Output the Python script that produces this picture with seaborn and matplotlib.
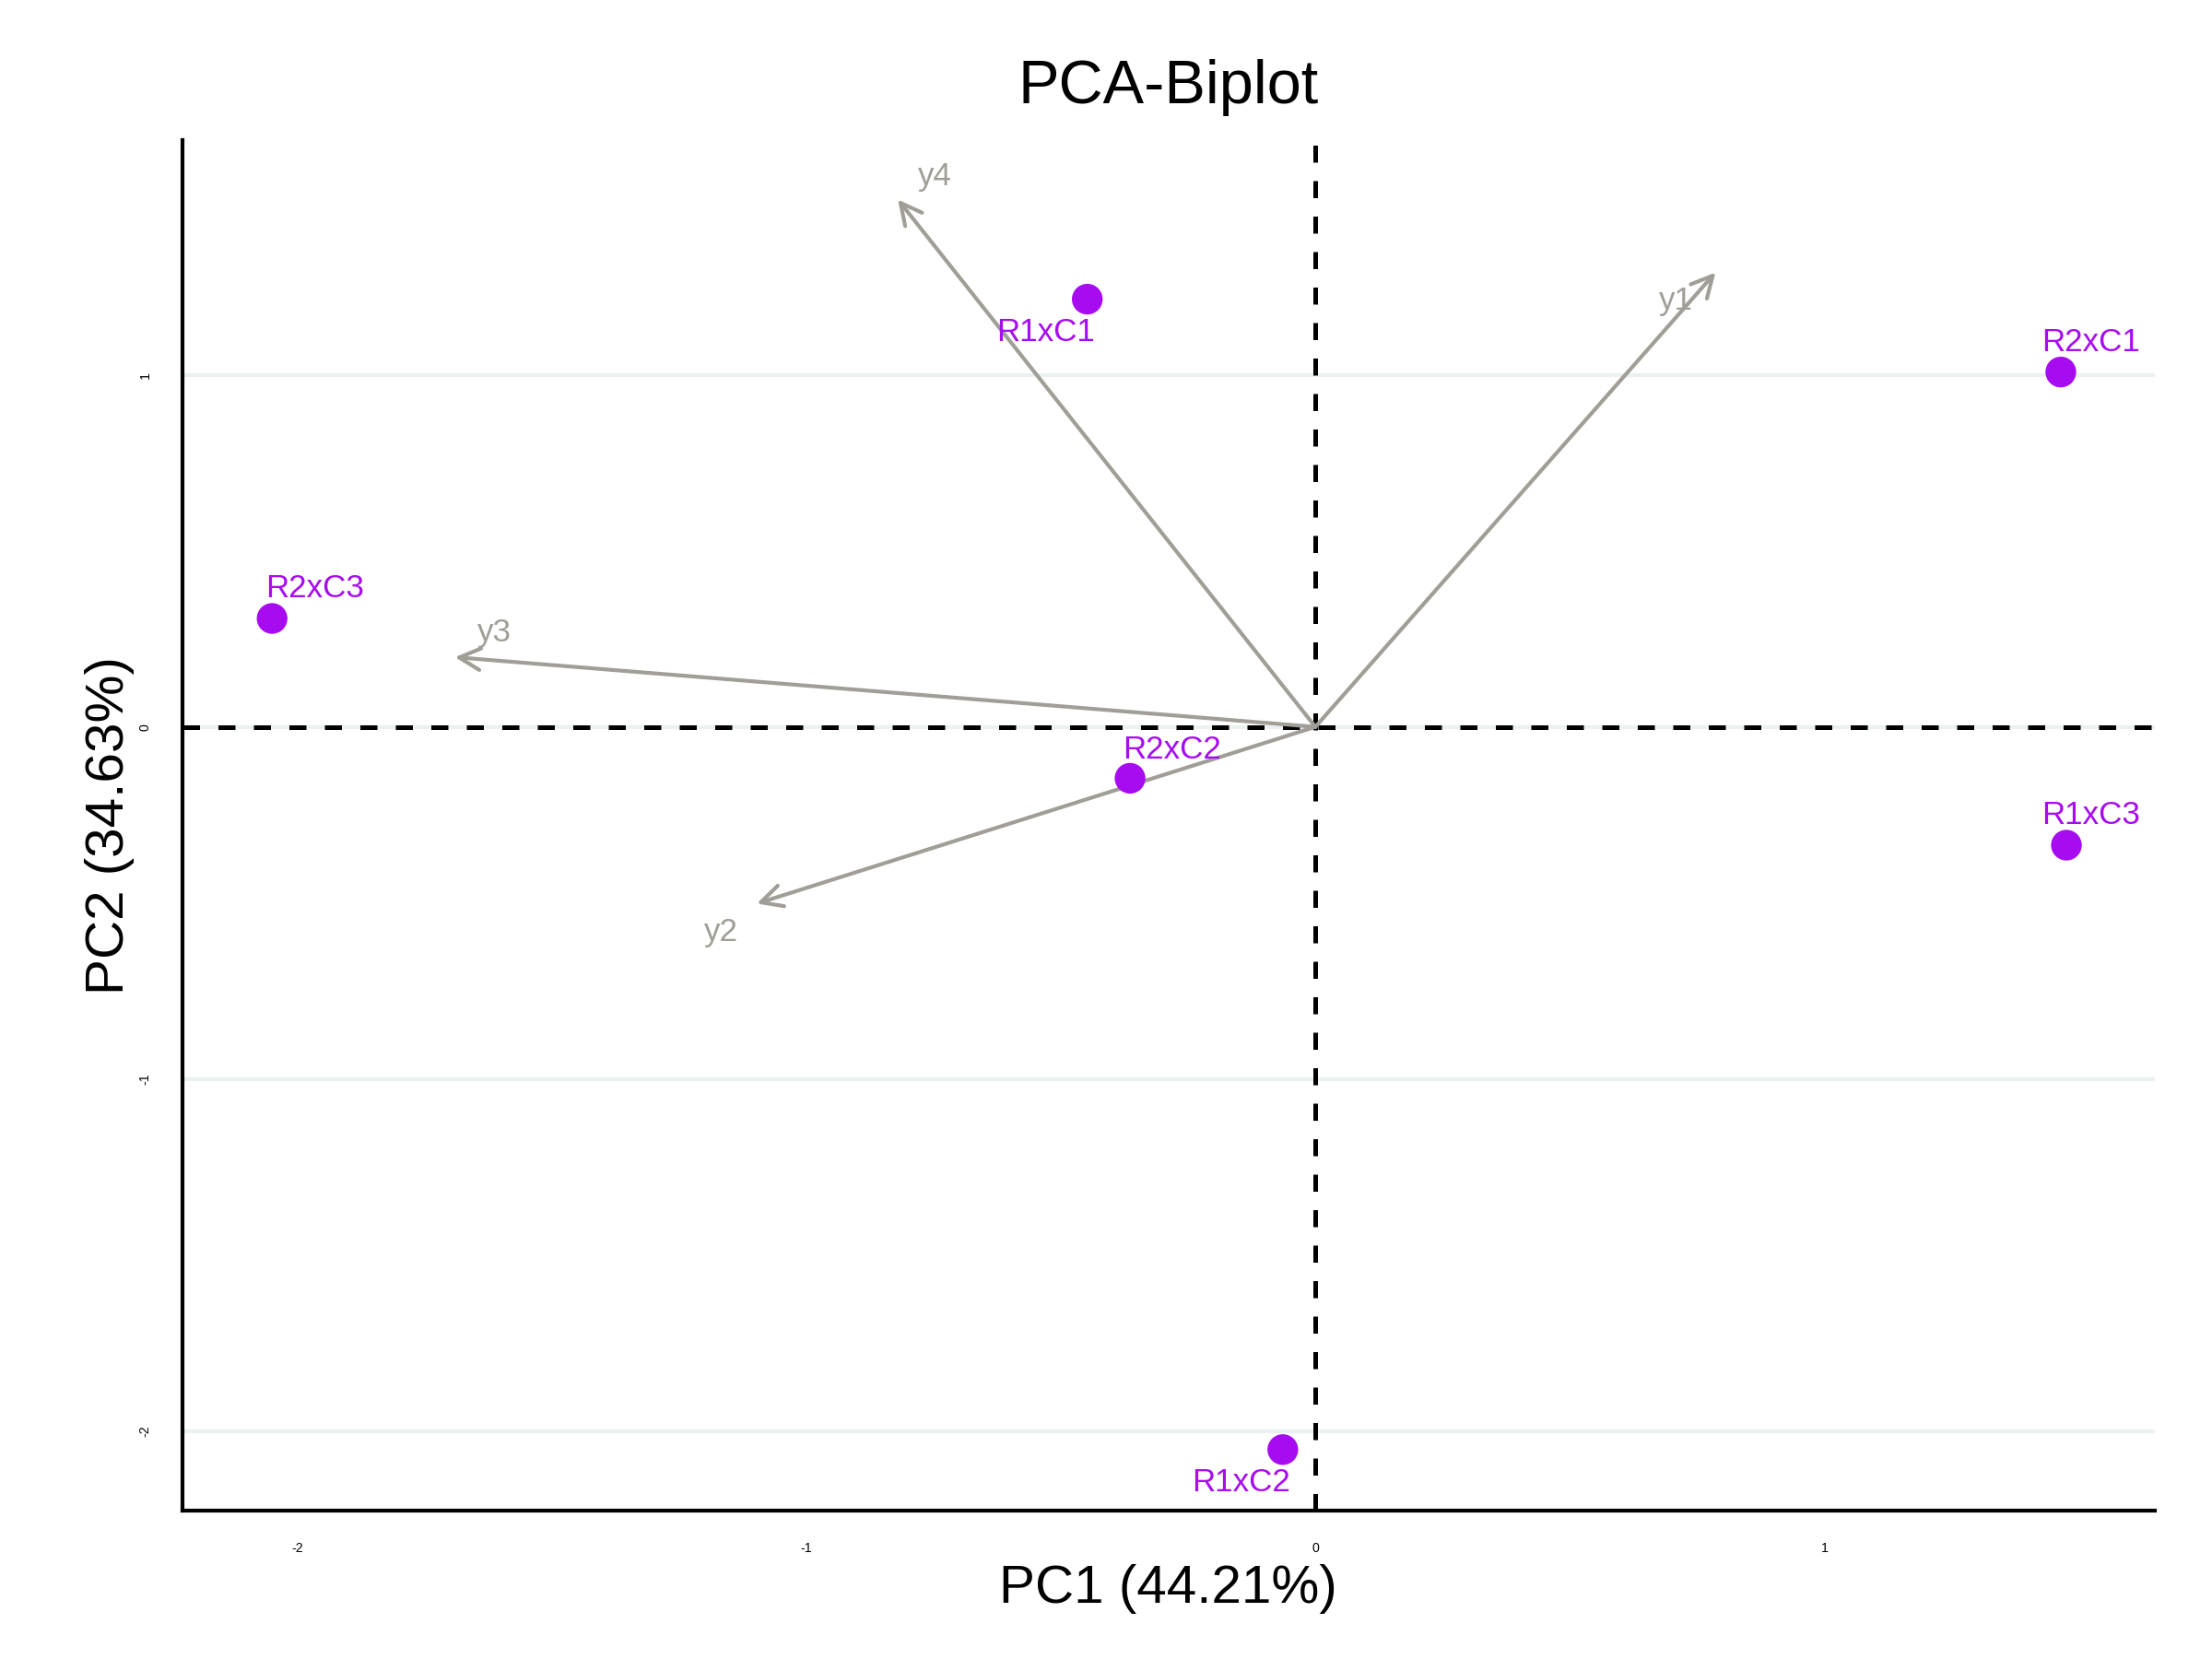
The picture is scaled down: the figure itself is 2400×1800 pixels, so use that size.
import matplotlib
matplotlib.use("Agg")
import matplotlib.pyplot as plt
import seaborn as sns
import pandas as pd

# ---- data ----
obs_names = ["R1xC1", "R2xC1", "R2xC3", "R2xC2", "R1xC3", "R1xC2"]
obs_pc1 = [-0.448, 1.464, -2.049, -0.364, 1.475, -0.064]
obs_pc2 = [1.215, 1.008, 0.308, -0.146, -0.336, -2.053]

var_names = ["y1", "y2", "y3", "y4"]
var_pc1 = [0.786, -1.097, -1.690, -0.820]
var_pc2 = [1.291, -0.502, 0.198, 1.498]

x_ticks = [-2, -1, 0, 1]
y_ticks = [-2, -1, 0, 1]
x_label = "PC1 (44.21%)"
y_label = "PC2 (34.63%)"
title = "PCA-Biplot"

# label offsets (points)
obs_offsets = [(-10.8, -8.5), (7.8, 7.8), (11.1, 7.8), (10.8, 7.5), (6.3, 7.8), (-10.8, -8.5)]
var_offsets = [(-10.4, -7.4), (-9.3, -7.4), (10.4, 6.3), (9.7, 6.0)]

PURPLE = "#A70CF0"
GREY = "#A09E96"

sns.set_style("white")
plt.rcParams["font.family"] = ["Liberation Sans", "DejaVu Sans"]
plt.rcParams["axes.unicode_minus"] = False
plt.rcParams["text.color"] = "black"
plt.rcParams["axes.labelcolor"] = "black"

fig = plt.figure(figsize=(8, 6), dpi=300)
ax = fig.add_axes([0.0825, 0.0893, 0.8915, 0.8265])

df = pd.DataFrame({"PC1": obs_pc1, "PC2": obs_pc2, "name": obs_names})

ax.set_xlim(-2.225, 1.648)
ax.set_ylim(-2.227, 1.668)

for yt in y_ticks:
    ax.axhline(yt, color="#EAF1F1", lw=1.0, zorder=0)

ax.axhline(0, color="black", lw=1.2, ls=(0, (3.7, 4.0)), zorder=1)
ax.axvline(0, color="black", lw=1.2, ls=(0, (3.7, 4.0)), zorder=1)

for name, vx, vy, off in zip(var_names, var_pc1, var_pc2, var_offsets):
    ax.annotate("", xy=(vx, vy), xytext=(0, 0),
                arrowprops=dict(arrowstyle="->,head_length=0.55,head_width=0.28",
                                color=GREY, lw=1.0, shrinkA=0, shrinkB=0),
                zorder=2)
    ax.annotate(name, xy=(vx, vy), xytext=off, textcoords="offset points",
                ha="center", va="center", color=GREY, fontsize=8.4, zorder=3)

sns.scatterplot(data=df, x="PC1", y="PC2", ax=ax, color=PURPLE, s=64,
                edgecolor="none", linewidth=0, zorder=4, legend=False)

for name, px, py, off in zip(obs_names, obs_pc1, obs_pc2, obs_offsets):
    ax.annotate(name, xy=(px, py), xytext=off, textcoords="offset points",
                ha="center", va="center", color=PURPLE, fontsize=8.4, zorder=5)

ax.set_xticks(x_ticks)
ax.set_yticks(y_ticks)
ax.set_xticklabels([str(t) for t in x_ticks], fontsize=3.4)
ax.set_yticklabels([str(t) for t in y_ticks], fontsize=3.4, rotation=90, va="center")
ax.tick_params(axis="both", length=5.0, width=0.7, color="black", pad=3, labelcolor="black")

for s in ["top", "right"]:
    ax.spines[s].set_visible(False)
for s in ["left", "bottom"]:
    ax.spines[s].set_color("black")
    ax.spines[s].set_linewidth(1.0)

ax.set_xlabel(x_label, fontsize=14, labelpad=2.5, color="black")
ax.set_ylabel(y_label, fontsize=14, labelpad=1.0, color="black")
ax.set_title(title, fontsize=16, pad=9.4, color="black")

fig.savefig("out.png", dpi=300)
